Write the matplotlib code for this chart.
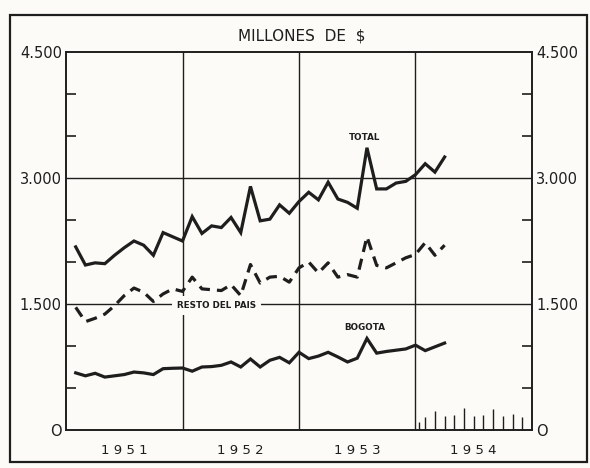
import numpy as np
import matplotlib.pyplot as plt
from matplotlib.patches import Rectangle

# monthly values, Jan 1951 - Mar 1954 (millones de $)
months = list(range(1, 40))

total = [2180, 1964, 1990, 1980, 2080, 2170, 2250, 2200, 2080, 2350, 2300, 2250,
         2540, 2340, 2430, 2410, 2530, 2350, 2900, 2490, 2510, 2680, 2580, 2720,
         2830, 2740, 2950, 2750, 2710, 2640, 3360, 2870, 2870, 2940, 2960, 3040,
         3170, 3070, 3250]

resto = [1460, 1290, 1330, 1380, 1480, 1600, 1690, 1640, 1530, 1620, 1680, 1650,
         1820, 1680, 1670, 1660, 1730, 1600, 1970, 1750, 1820, 1830, 1760, 1930,
         2000, 1870, 1990, 1820, 1850, 1820, 2300, 1960, 1930, 1990, 2050, 2090,
         2230, 2080, 2200]

bogota = [680, 645, 675, 630, 645, 660, 690, 680, 660, 730, 735, 738,
          700, 750, 755, 770, 810, 750, 845, 750, 830, 865, 800, 925,
          850, 880, 925, 870, 810, 855, 1090, 915, 935, 950, 965, 1010,
          945, 990, 1035]

years = ["1951", "1952", "1953", "1954"]
ytick_vals = [0, 1500, 3000, 4500]
ytick_labels = ["O", "1.500", "3.000", "4.500"]

ink = "#1e1e1e"
paper = "#fcfbf7"

fig = plt.figure(figsize=(5.9, 4.68), dpi=100, facecolor=paper)
ax = fig.add_axes([66/590, 1 - 430/468, 466/590, 378/468])
ax.set_facecolor(paper)

# outer frame of the plate
fig.patches.append(Rectangle((10/590, 6/468), 577/590, 447/468, transform=fig.transFigure,
                             fill=False, edgecolor=ink, linewidth=1.6))

ax.set_xlim(0, 48)
ax.set_ylim(0, 4500)

# grid
for yv in [1500, 3000]:
    ax.axhline(yv, color=ink, lw=1.0, zorder=1)
for xv in [12, 24, 36]:
    ax.axvline(xv, color=ink, lw=1.0, zorder=1)

ax.plot(months, total, color=ink, lw=2.3, solid_joinstyle="miter", zorder=3)
ax.plot(months, resto, color=ink, lw=2.3, dashes=(3.5, 2.2), zorder=3)
ax.plot(months, bogota, color=ink, lw=2.3, solid_joinstyle="miter", zorder=3)

lab_font = dict(fontsize=6.3, fontweight="bold", color=ink, ha="center", va="center")
ax.text(30.8, 3480, "TOTAL", **lab_font)
ax.text(15.5, 1480, "RESTO DEL PAIS", zorder=4,
        bbox=dict(boxstyle="square,pad=0.6", fc=paper, ec="none"), **lab_font)
ax.text(30.8, 1215, "BOGOTA", **lab_font)

# small month marks along the base for 1954
tick_months = [37, 38, 39, 40, 41, 42, 43, 44, 45, 46, 47]
tick_heights = [150, 230, 170, 180, 260, 170, 180, 250, 170, 190, 150]
ax.vlines(tick_months, 0, tick_heights, color=ink, lw=1.0)
ax.vlines([36.4], 0, [90], color=ink, lw=1.0)

# axes
for s in ax.spines.values():
    s.set_color(ink)
    s.set_linewidth(1.4)

ax.set_yticks(ytick_vals)
ax.set_yticklabels(ytick_labels)
ax.set_yticks([500, 1000, 2000, 2500, 3500, 4000], minor=True)
ax.tick_params(axis="y", which="major", length=0, pad=3, labelsize=10.5,
               labelcolor=ink, left=True, right=True, labelleft=True, labelright=True)
ax.tick_params(axis="y", which="minor", direction="in", length=7, width=1.2,
               color=ink, left=True, right=True)

ax.set_xticks([6, 18, 30, 42])
ax.set_xticklabels([" ".join(y) for y in years])
ax.tick_params(axis="x", length=0, pad=10, labelsize=9.5, labelcolor=ink)

fig.text(0.512, 1 - 36/468, "MILLONES  DE  $", ha="center", va="center",
         fontsize=11, color=ink)

fig.savefig("out.png", dpi=100, facecolor=paper)
